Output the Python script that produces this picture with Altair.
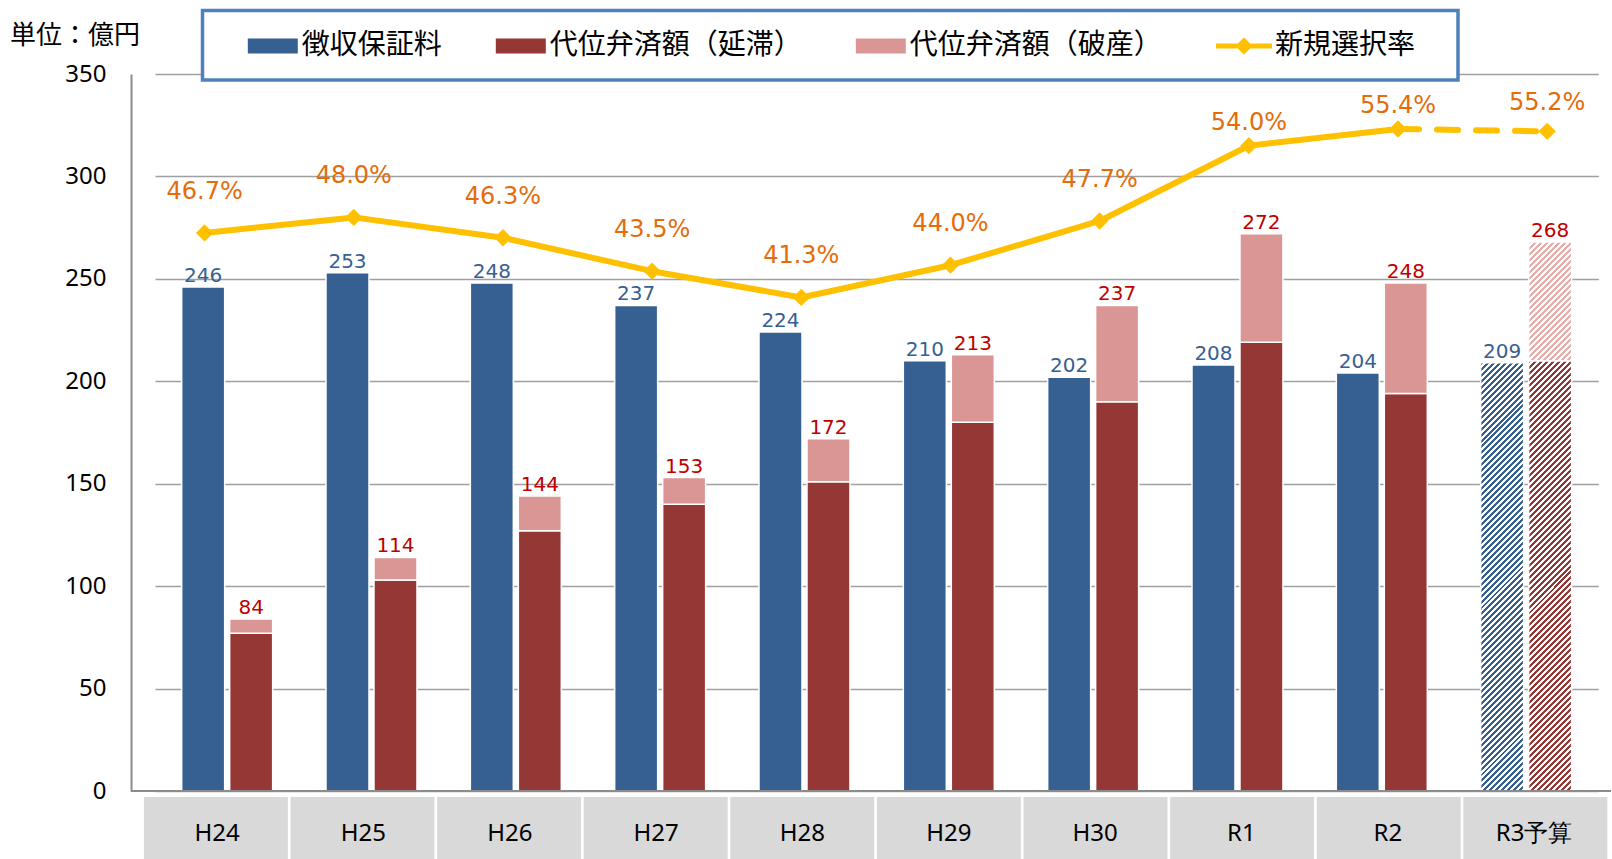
import altair as alt
import pandas as pd

# ---------------- data ----------------
categories = ["H24", "H25", "H26", "H27", "H28", "H29", "H30", "R1", "R2", "R3予算"]
fee = [246, 253, 248, 237, 224, 210, 202, 208, 204, 209]                 # 徴収保証料
subrogation_delay = [77, 103, 127, 140, 151, 180, 190, 219, 194, 210]     # 代位弁済額（延滞）
subrogation_bankrupt = [7, 11, 17, 13, 21, 33, 47, 53, 54, 58]            # 代位弁済額（破産）
selection_rate = [46.7, 48.0, 46.3, 43.5, 41.3, 44.0, 47.7, 54.0, 55.4, 55.2]  # 新規選択率 (%)
series_names = ["徴収保証料", "代位弁済額（延滞）", "代位弁済額（破産）"]
line_name = "新規選択率"
budget_cat = "R3予算"
unit_label = "単位：億円"
y_ticks = [0, 50, 100, 150, 200, 250, 300, 350]

# ---------------- style ----------------
BLUE, DRED, PINK, GOLD = "#376092", "#953735", "#D99694", "#FFC000"
W, H = 1480, 717
PX = H / 350.0
BAR_W = 43.0

rows = []
for c, f, d, b in zip(categories, fee, subrogation_delay, subrogation_bankrupt):
    rows.append(dict(cat=c, grp="fee", series=series_names[0], lo=0, hi=f, total=f))
    rows.append(dict(cat=c, grp="sub", series=series_names[1], lo=0, hi=d, total=d + b))
    rows.append(dict(cat=c, grp="sub", series=series_names[2], lo=d, hi=d + b, total=d + b))
bars_df = pd.DataFrame(rows)

line_df = pd.DataFrame(dict(cat=categories, rate=selection_rate,
                            lname=[line_name] * len(categories),
                            idx=list(range(len(categories)))))
box_df = pd.DataFrame(dict(cat=categories))


def xbar():
    return alt.X("cat:N", scale=alt.Scale(domain=categories, range=[24.0, 1467.3],
                                          paddingInner=0, paddingOuter=0), axis=None)


def xoff():
    return alt.XOffset("grp:N", scale=alt.Scale(domain=["fee", "sub"],
                                                paddingInner=0.104, paddingOuter=0.556))


def ybar(field, axis=None):
    return alt.Y(f"{field}:Q", scale=alt.Scale(domain=[0, 350], nice=False, zero=True), axis=axis)


def xline():
    return alt.X("cat:N", scale=alt.Scale(type="point", domain=categories,
                                          range=[73.6, 1416.2], padding=0), axis=None)


def yline():
    return alt.Y("rate:Q", scale=alt.Scale(domain=[0, 60], nice=False), axis=None)


def xbox():
    return alt.X("cat:N", scale=alt.Scale(domain=categories, range=[12.9, 1476.3],
                                          paddingInner=0.018, paddingOuter=0), axis=None)


def hatch(color, w, h, period=6.0, duty=0.5):
    n = max(1, int(round((w + h) / period)))
    stops = []
    for i in range(n):
        a, m, b = i / n, (i + duty) / n, (i + 1) / n
        stops += [alt.GradientStop(color=color, offset=a), alt.GradientStop(color=color, offset=m),
                  alt.GradientStop(color="white", offset=m), alt.GradientStop(color="white", offset=b)]
    d = w * w + h * h
    return alt.LinearGradient(gradient="linear", stops=stops, x1=0, y1=0,
                              x2=(w + h) * w / d, y2=(w + h) * h / d)


y_axis = alt.Axis(values=y_ticks, title=None, grid=True, gridColor="#A0A0A0", gridWidth=1.5,
                  domain=True, domainColor="#8C8C8C", domainWidth=2, ticks=False,
                  labelFont="Noto Sans", labelFontSize=24, labelColor="black", labelPadding=25)

bar_legend = alt.Legend(title=None, orient="none", legendX=116.8, legendY=-53, direction="horizontal",
                        symbolType="M-1,-0.3H1V0.3H-1Z", symbolSize=2500, symbolStrokeWidth=0,
                        labelFont="Noto Sans CJK JP", labelFontSize=28, labelColor="black",
                        labelOffset=4, columnPadding=53, labelLimit=600, padding=0)

line_legend = alt.Legend(title=None, orient="none", legendX=1085, legendY=-56, direction="horizontal",
                         symbolType="M-1,-0.09H-0.22L0,-0.3L0.22,-0.09H1V0.09H0.22L0,0.3L-0.22,0.09H-1Z",
                         symbolSize=3136, symbolStrokeWidth=0,
                         labelFont="Noto Sans CJK JP", labelFontSize=28, labelColor="black",
                         labelOffset=3, labelLimit=600, padding=0)

# ---------------- layers ----------------
solid_bars = alt.Chart(bars_df).transform_filter(alt.datum.cat != budget_cat).mark_bar(
    stroke="white", strokeWidth=1.5, opacity=1).encode(
    x=xbar(), xOffset=xoff(), y=ybar("lo", y_axis), y2="hi:Q",
    color=alt.Color("series:N", scale=alt.Scale(domain=series_names, range=[BLUE, DRED, PINK]),
                    legend=bar_legend))

budget_idx = categories.index(budget_cat)
hatch_specs = [
    (series_names[0], BLUE, fee[budget_idx]),
    (series_names[1], DRED, subrogation_delay[budget_idx]),
    (series_names[2], "#E3AEAC", subrogation_bankrupt[budget_idx]),
]
hatch_layers = []
for name, col, val in hatch_specs:
    hatch_layers.append(
        alt.Chart(bars_df).transform_filter(
            (alt.datum.cat == budget_cat) & (alt.datum.series == name)).mark_bar(
            fill=hatch(col, BAR_W, val * PX), stroke="white", strokeWidth=1.5, opacity=1).encode(
            x=xbar(), xOffset=xoff(), y=ybar("lo"), y2="hi:Q"))

baseline = alt.Chart(pd.DataFrame({"v": [0]})).mark_rule(color="#8C8C8C", strokeWidth=2).encode(
    y=ybar("v"))

fee_labels = alt.Chart(bars_df).transform_filter(alt.datum.series == series_names[0]).mark_text(
    font="DejaVu Sans", fontSize=20, color=BLUE, baseline="alphabetic", dy=-5).encode(
    x=xbar(), xOffset=xoff(), y=ybar("hi"), text="hi:Q")

total_labels = alt.Chart(bars_df).transform_filter(alt.datum.series == series_names[2]).mark_text(
    font="DejaVu Sans", fontSize=20, color="#C00000", baseline="alphabetic", dy=-5).encode(
    x=xbar(), xOffset=xoff(), y=ybar("total"), text="total:Q")

legend_box = alt.Chart(pd.DataFrame({"k": [0]})).mark_rect(
    fill="white", stroke="#4F81BD", strokeWidth=3.5).encode(
    x=alt.value(71.5), x2=alt.value(1327), y=alt.value(-63.5), y2=alt.value(6))

solid_line = alt.Chart(line_df).transform_filter(alt.datum.cat != budget_cat).mark_line(
    color=GOLD, strokeWidth=6, strokeCap="round", strokeJoin="round").encode(
    x=xline(), y=yline(), order="idx:Q")

dashed_line = alt.Chart(line_df).transform_filter(
    alt.FieldOneOfPredicate(field="cat", oneOf=categories[-2:])).mark_line(
    color=GOLD, strokeWidth=6, strokeCap="round", strokeDash=[21, 18]).encode(
    x=xline(), y=yline(), order="idx:Q")

points = alt.Chart(line_df).mark_point(shape="diamond", filled=True, size=300, opacity=1,
                                       strokeWidth=0).encode(
    x=xline(), y=yline(),
    color=alt.Color("lname:N", scale=alt.Scale(domain=[line_name], range=[GOLD]), legend=line_legend))


def pct_layer(cats, dy):
    return alt.Chart(line_df).transform_filter(
        alt.FieldOneOfPredicate(field="cat", oneOf=cats)).transform_calculate(
        lbl="format(datum.rate, '.1f') + '%'").mark_text(
        font="DejaVu Sans", fontSize=24, color="#E46C0A", baseline="middle", dy=dy).encode(
        x=xline(), y=yline(), text="lbl:N")


pct_a = pct_layer(categories[:7], -41)
pct_b = pct_layer(categories[7:9], -23)
pct_c = pct_layer(categories[9:], -28)

boxes = alt.Chart(box_df).mark_rect(color="#D9D9D9").encode(
    x=xbox(), y=alt.value(723), y2=alt.value(786))
box_text = alt.Chart(box_df).mark_text(font="Noto Sans", fontSize=24, color="black",
                                       baseline="middle").encode(
    x=xbox(), y=alt.value(760), text="cat:N")

unit_text = alt.Chart(pd.DataFrame({"t": [unit_label]})).mark_text(
    font="Noto Sans CJK JP", fontSize=26, color="black", align="left", baseline="middle").encode(
    x=alt.value(-121), y=alt.value(-38), text="t:N")

chart = alt.layer(
    solid_bars, *hatch_layers, baseline, fee_labels, total_labels, legend_box,
    solid_line, dashed_line, points, pct_a, pct_b, pct_c, boxes, box_text, unit_text
).resolve_scale(
    x="independent", y="independent", color="independent"
).properties(
    width=W, height=H,
    padding={"left": 131, "top": 74, "right": 1, "bottom": 68},
    autosize=alt.AutoSizeParams(type="none"),
    background="white",
).configure_view(stroke=None)

chart.save("out.html", embed_options={"renderer": "svg", "actions": False})
